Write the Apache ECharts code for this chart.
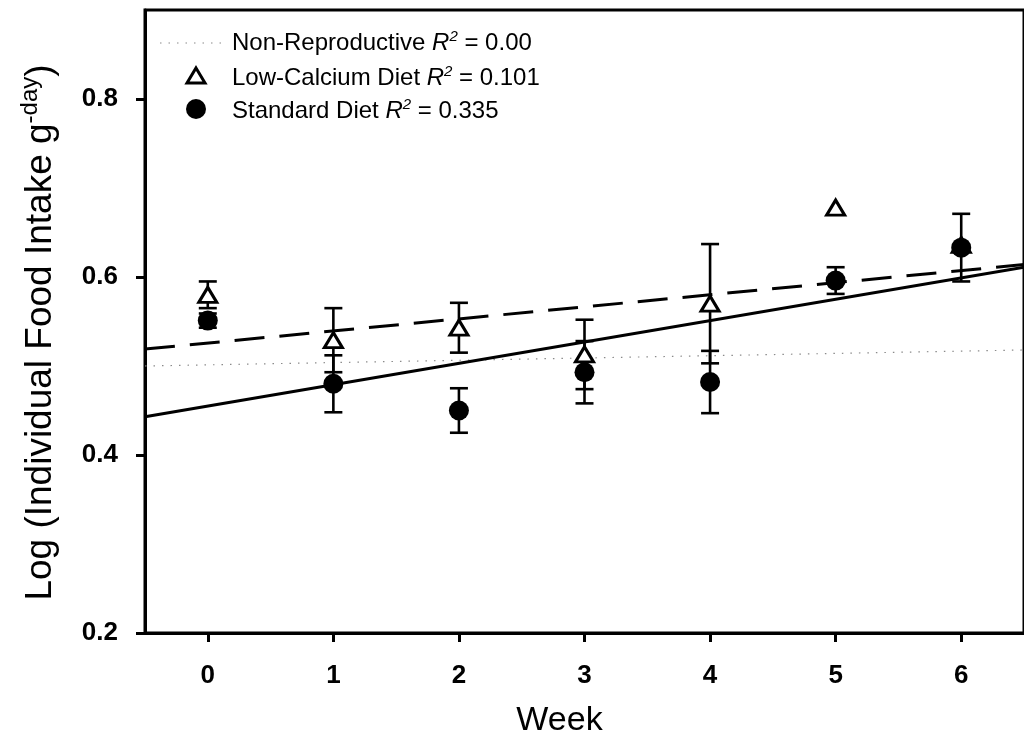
<!DOCTYPE html>
<html>
<head>
<meta charset="utf-8">
<script src="https://cdn.jsdelivr.net/npm/echarts@6/dist/echarts.min.js"></script>
<style>
  html, body { margin: 0; padding: 0; background: #fff; }
  #chart { width: 1024px; height: 751px; }
</style>
</head>
<body>
<div id="chart"></div>
<script>
// Weekly log food intake by diet group, with standard errors and linear fits
const weeks = [0, 1, 2, 3, 4, 5, 6];
const lowCalciumMean = [0.580, 0.529, 0.543, 0.513, 0.570, 0.678, 0.636];
const lowCalciumErr  = [0.015, 0.036, 0.028, 0.039, 0.067, null, null];
const standardMean   = [0.551, 0.480, 0.450, 0.493, 0.482, 0.596, 0.633];
const standardErr    = [0.008, 0.032, 0.025, 0.035, 0.035, 0.015, 0.038];

// Fitted regression lines, evaluated at the ends of the week axis
const fitWeeks       = [-0.5, 6.5];
const nonReproFit    = [0.500, 0.518];
const lowCalciumFit  = [0.519, 0.614];
const standardFit    = [0.443, 0.611];

const yTickValues = [0.2, 0.4, 0.6, 0.8];
const yTickLabels = ['0.2', '0.4', '0.6', '0.8'];
const xTickValues = [0, 1, 2, 3, 4, 5, 6];

const legendLabels = [
  ['Non-Reproductive ', '0.00'],
  ['Low-Calcium Diet ', '0.101'],
  ['Standard Diet ', '0.335']
];

const FONT = '"Liberation Sans", Arial, sans-serif';

const pairs = (xs, ys) => xs.map((x, i) => [x, ys[i]]);

function errorBarSeries(means, errs, z) {
  const data = weeks.map((w, i) => [w, means[i], errs[i]]).filter(d => d[2] != null);
  return {
    type: 'custom',
    z: z,
    silent: true,
    data: data,
    encode: { x: 0, y: 1 },
    renderItem: function (params, api) {
      const x = api.value(0), m = api.value(1), e = api.value(2);
      const top = api.coord([x, m + e]);
      const bot = api.coord([x, m - e]);
      const half = 9;
      const style = { stroke: '#000', lineWidth: 2.6, fill: null };
      return {
        type: 'group',
        children: [
          { type: 'line', shape: { x1: top[0], y1: top[1], x2: bot[0], y2: bot[1] }, style: style },
          { type: 'line', shape: { x1: top[0] - half, y1: top[1], x2: top[0] + half, y2: top[1] }, style: style },
          { type: 'line', shape: { x1: bot[0] - half, y1: bot[1], x2: bot[0] + half, y2: bot[1] }, style: style }
        ]
      };
    }
  };
}

const legendRich = {
  t: { fontFamily: FONT, fontSize: 24, color: '#000' },
  r: { fontFamily: FONT, fontSize: 24, fontStyle: 'italic', color: '#000' },
  s: { fontFamily: FONT, fontSize: 15, fontStyle: 'italic', color: '#000', padding: [0, 0, 14, 0] }
};

const iconRows = [43, 76, 109];
const textRows = [46, 81, 114];

const graphics = [
  { type: 'line', shape: { x1: 160, y1: iconRows[0], x2: 228, y2: iconRows[0] },
    style: { stroke: '#8a8a8a', lineWidth: 1.2, lineDash: [1.5, 7] }, z: 10 },
  { type: 'polygon', shape: { points: [[196, iconRows[1] - 8], [205, iconRows[1] + 7], [187, iconRows[1] + 7]] },
    style: { fill: '#fff', stroke: '#000', lineWidth: 3 }, z: 10 },
  { type: 'circle', shape: { cx: 196, cy: iconRows[2], r: 10 }, style: { fill: '#000' }, z: 10 }
];
legendLabels.forEach((row, i) => {
  graphics.push({
    type: 'text', left: 232, top: textRows[i] - 17, z: 10,
    style: {
      text: '{t|' + row[0] + '}{r|R}{s|2}{t| = ' + row[1] + '}',
      rich: legendRich
    }
  });
});

const chart = echarts.init(document.getElementById('chart'), null, { renderer: 'canvas' });
chart.setOption({
  animation: false,
  backgroundColor: '#fff',
  grid: {
    left: 145, top: 10, width: 889, height: 623,
    show: true, borderColor: '#000', borderWidth: 3, backgroundColor: 'transparent'
  },
  graphic: graphics,
  xAxis: {
    type: 'value', min: -0.5, max: 6.5,
    name: 'Week', nameLocation: 'middle', nameGap: 71,
    nameTextStyle: { fontFamily: FONT, fontSize: 34, color: '#000', padding: [0, 50, 0, 0] },
    axisLine: { show: true, onZero: false, lineStyle: { color: '#000', width: 3 } },
    axisTick: { show: true, customValues: xTickValues, length: 9, lineStyle: { color: '#000', width: 3 } },
    axisLabel: { customValues: xTickValues, margin: 30, fontFamily: FONT, fontSize: 26, fontWeight: 'bold', color: '#000' },
    splitLine: { show: false }
  },
  yAxis: {
    type: 'value', min: 0.2, max: 0.9,
    name: '{m|Log (Individual Food Intake g}{s|-day}{m|)}',
    nameLocation: 'middle', nameGap: 82, nameRotate: 90,
    nameTextStyle: {
      padding: [0, 22, 0, 0],
      rich: {
        m: { fontFamily: FONT, fontSize: 37, color: '#000' },
        s: { fontFamily: FONT, fontSize: 24, color: '#000', padding: [0, 0, 21, 0] }
      }
    },
    axisLine: { show: true, onZero: false, lineStyle: { color: '#000', width: 3 } },
    axisTick: { show: true, customValues: yTickValues, length: 9, lineStyle: { color: '#000', width: 3 } },
    axisLabel: {
      customValues: yTickValues, margin: 27,
      formatter: v => yTickLabels[yTickValues.findIndex(t => Math.abs(t - v) < 1e-9)] || '',
      fontFamily: FONT, fontSize: 26, fontWeight: 'bold', color: '#000'
    },
    splitLine: { show: false }
  },
  series: [
    { name: 'Non-Reproductive', type: 'line', data: pairs(fitWeeks, nonReproFit), symbol: 'none', z: 2,
      lineStyle: { color: '#8a8a8a', width: 1.2, type: [1.5, 7] } },
    { name: 'Low-Calcium fit', type: 'line', data: pairs(fitWeeks, lowCalciumFit), symbol: 'none', z: 2,
      lineStyle: { color: '#000', width: 3, type: [30, 15] } },
    { name: 'Standard fit', type: 'line', data: pairs(fitWeeks, standardFit), symbol: 'none', z: 2,
      lineStyle: { color: '#000', width: 3, type: 'solid' } },
    errorBarSeries(lowCalciumMean, lowCalciumErr, 3),
    errorBarSeries(standardMean, standardErr, 3),
    { name: 'Low-Calcium Diet', type: 'scatter', data: pairs(weeks, lowCalciumMean), z: 4,
      symbol: 'triangle', symbolSize: [18, 15],
      itemStyle: { color: '#fff', borderColor: '#000', borderWidth: 3, opacity: 1 } },
    { name: 'Standard Diet', type: 'scatter', data: pairs(weeks, standardMean), z: 5,
      symbol: 'circle', symbolSize: 20,
      itemStyle: { color: '#000', opacity: 1 } }
  ]
});
</script>
</body>
</html>
